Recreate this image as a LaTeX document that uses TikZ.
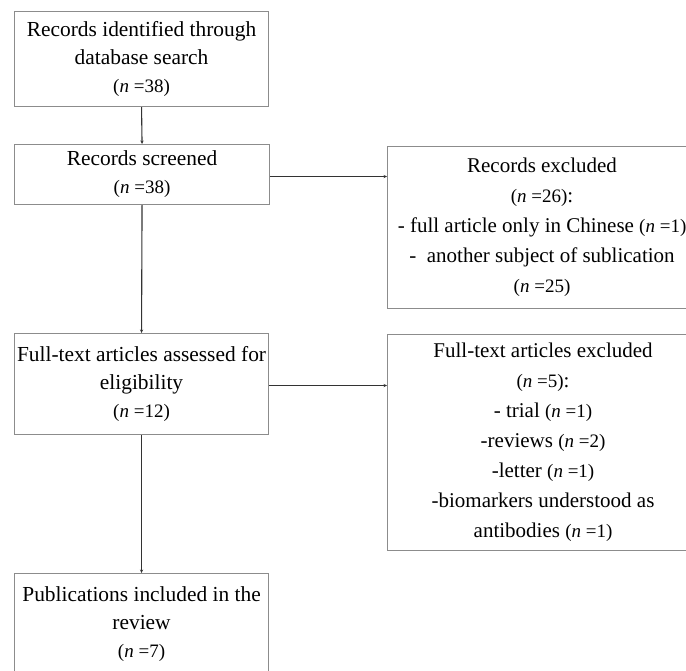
\documentclass[tikz,border=0pt]{standalone}
\usepackage{fontspec}
\setmainfont{Liberation Serif}
\usetikzlibrary{arrows.meta}
\newcommand\nval[1]{{\fontsize{19}{28}\selectfont(\textit{n} =#1)}}
\begin{document}
\begin{tikzpicture}[x=1pt,y=1pt,
  box/.style={draw=black!45, line width=1.1pt, inner sep=0pt, anchor=north west,
    align=center, font=\fontsize{21.4}{28}\selectfont},
  rbox/.style={box, font=\fontsize{21}{30}\selectfont},
  conn/.style={draw=black!80, line width=1.1pt, -{Stealth[length=3.5pt,width=3.2pt]}}]
\clip (0,0) rectangle (686,-671);
\node[box, minimum width=254, minimum height=95] (b1) at (14,-11)
  {Records identified through\\ database search\\ \nval{38}};
\node[box, minimum width=255, minimum height=60] (b2) at (14,-144)
  {Records screened\\ \nval{38}};
\node[box, minimum width=254, minimum height=101] (b3) at (14,-333)
  {Full-text articles assessed for\\ eligibility\\ \nval{12}};
\node[box, minimum width=254, minimum height=101] (b4) at (14,-573)
  {Publications included in the\\ review\\ \nval{7}};
\node[rbox, minimum width=309, minimum height=162] (r1) at (387,-146)
  {Records excluded\\ \nval{26}:\\ - full article only in Chinese \nval{1}\\ -\ \ another subject of sublication\\ \nval{25}};
\node[rbox, minimum width=311, minimum height=216] (r2) at (387,-334)
  {Full-text articles excluded\\ \nval{5}:\\ - trial \nval{1}\\ -reviews \nval{2}\\ -letter \nval{1}\\ -biomarkers understood as\\ antibodies \nval{1}};
\draw[conn] (b1.south) -- (b2.north);
\draw[conn] (b2.south) -- (b3.north);
\draw[conn] (b3.south) -- (b4.north);
\draw[conn] ([yshift=-2pt]b2.east) -- ([yshift=-2pt]b2.east -| r1.west);
\draw[conn] ([yshift=-1.5pt]b3.east) -- ([yshift=-1.5pt]b3.east -| r2.west);
\end{tikzpicture}
\end{document}
